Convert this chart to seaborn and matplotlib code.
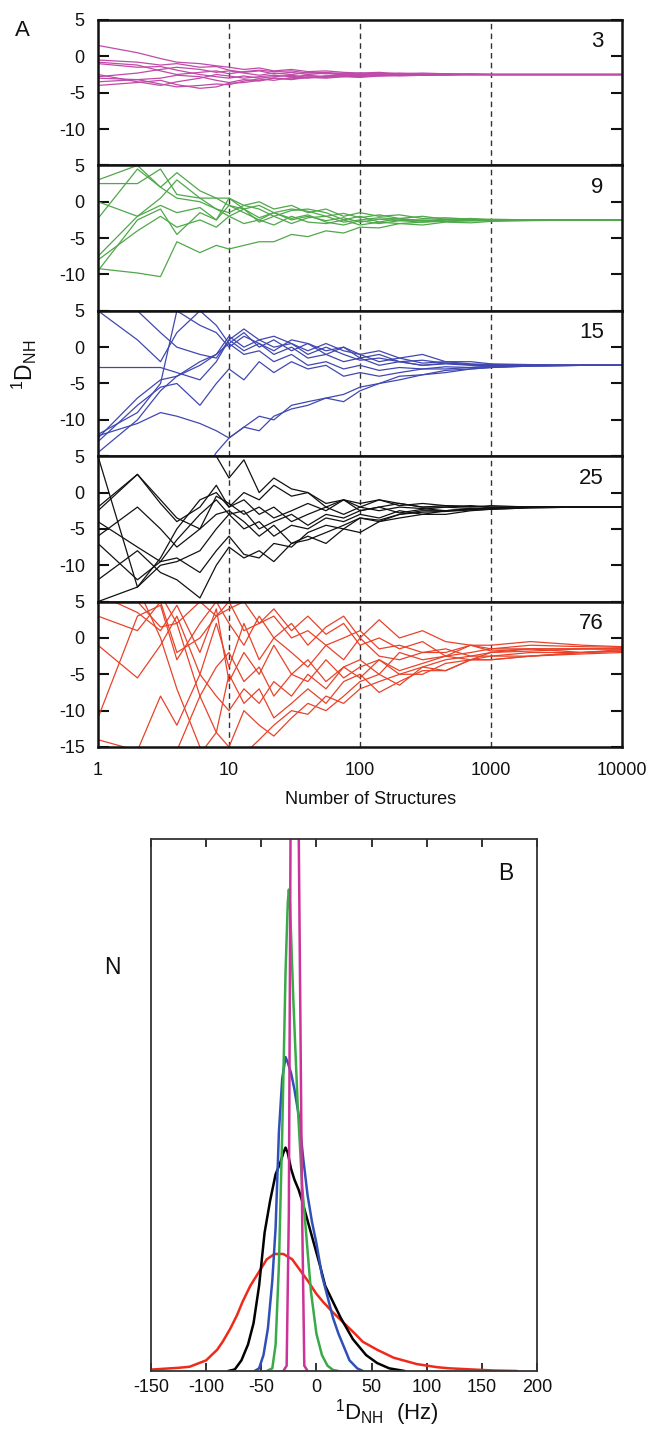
import numpy as np
import pandas as pd
import matplotlib
matplotlib.use("Agg")
import matplotlib.pyplot as plt
from matplotlib.ticker import NullLocator, FixedLocator, FixedFormatter
import seaborn as sns

sns.set_style("white")
plt.rcParams['font.family'] = ['Liberation Sans', 'DejaVu Sans']
plt.rcParams['mathtext.fontset'] = 'custom'
plt.rcParams['mathtext.rm'] = 'Liberation Sans'
plt.rcParams['mathtext.default'] = 'regular'
for k in ['text.color', 'axes.labelcolor', 'xtick.color', 'ytick.color']:
    plt.rcParams[k] = '#111111'

# ---------------- data: panel A (running averages vs number of structures)
N_GRID = [1, 2, 3, 4, 6, 8, 10, 13, 17, 22, 30, 40, 55, 75, 100, 140, 200, 300,
          450, 700, 1000, 2000, 5000, 10000]

RUNS_3 = [
    [1.5, 0.5, -0.3, -0.8, -1.0, -1.3, -1.5, -1.8, -1.6, -2.0, -1.8, -2.1, -2.0, -2.2, -2.3, -2.2, -2.4, -2.3, -2.4, -2.5, -2.5, -2.5, -2.5, -2.5],
    [-0.5, -0.8, -1.2, -1.0, -1.5, -1.4, -1.9, -2.2, -2.0, -2.4, -2.2, -2.5, -2.3, -2.6, -2.4, -2.5, -2.6, -2.5, -2.5, -2.5, -2.5, -2.5, -2.5, -2.5],
    [-1.0, -1.5, -1.4, -1.9, -2.5, -2.8, -3.0, -2.7, -3.0, -2.8, -2.6, -2.9, -2.7, -2.5, -2.7, -2.6, -2.5, -2.6, -2.5, -2.5, -2.5, -2.5, -2.5, -2.5],
    [-2.8, -2.3, -1.8, -1.5, -1.8, -2.2, -2.0, -2.3, -2.6, -2.3, -2.5, -2.2, -2.4, -2.3, -2.5, -2.4, -2.4, -2.5, -2.4, -2.5, -2.5, -2.5, -2.5, -2.5],
    [-3.0, -3.2, -3.0, -2.6, -2.8, -3.3, -3.6, -3.2, -3.4, -3.0, -3.1, -2.8, -2.9, -2.7, -2.8, -2.6, -2.7, -2.6, -2.5, -2.5, -2.5, -2.5, -2.5, -2.5],
    [-3.5, -3.2, -3.8, -4.2, -4.0, -3.8, -3.9, -3.4, -3.1, -3.3, -2.9, -3.0, -2.7, -2.8, -2.6, -2.7, -2.6, -2.5, -2.6, -2.5, -2.5, -2.5, -2.5, -2.5],
    [-4.0, -3.6, -3.3, -3.9, -4.4, -4.2, -3.7, -3.6, -3.3, -3.0, -3.2, -2.9, -3.0, -2.8, -2.9, -2.7, -2.6, -2.6, -2.5, -2.5, -2.5, -2.5, -2.5, -2.5],
    [-0.8, -1.2, -2.0, -2.5, -2.2, -2.0, -2.4, -2.1, -1.9, -2.1, -2.0, -2.3, -2.2, -2.4, -2.3, -2.4, -2.3, -2.4, -2.5, -2.4, -2.5, -2.5, -2.5, -2.5],
    [-2.5, -3.5, -4.0, -3.5, -3.0, -2.5, -2.7, -3.0, -2.8, -2.6, -2.8, -2.6, -2.8, -2.6, -2.7, -2.6, -2.5, -2.6, -2.5, -2.5, -2.5, -2.5, -2.5, -2.5],
]

RUNS_9 = [
    [3.0, 5.0, 2.0, 4.0, 1.5, 0.5, 0.5, -0.5, 0.0, -1.0, -0.5, -1.5, -1.0, -2.0, -1.5, -2.0, -1.8, -2.3, -2.2, -2.4, -2.4, -2.5, -2.5, -2.5],
    [2.5, 2.5, 4.5, 1.0, 0.5, 0.5, -0.5, -1.0, -0.5, -1.5, -1.0, -1.3, -2.0, -1.6, -2.2, -1.8, -2.3, -2.0, -2.4, -2.3, -2.5, -2.5, -2.5, -2.5],
    [-2.3, 4.5, 2.0, 0.5, 0.0, -1.0, -2.0, -1.0, -2.2, -1.5, -2.5, -2.0, -2.6, -2.2, -2.8, -2.4, -2.6, -2.5, -2.7, -2.6, -2.5, -2.5, -2.5, -2.5],
    [-7.5, -2.0, 0.5, 3.0, 0.5, -1.0, -1.5, -0.5, -1.0, -2.0, -1.2, -1.0, -1.5, -2.5, -2.0, -2.8, -2.3, -2.6, -2.4, -2.5, -2.5, -2.5, -2.5, -2.5],
    [-8.0, -4.0, -2.0, -3.5, -2.5, -3.5, -2.0, -3.0, -2.5, -3.2, -2.0, -2.8, -3.0, -2.5, -3.2, -2.8, -3.0, -2.8, -2.7, -2.6, -2.6, -2.5, -2.5, -2.5],
    [-9.5, -2.5, -1.0, -4.5, -1.5, -2.5, -0.5, -1.5, -2.5, -1.5, -2.3, -1.8, -2.8, -3.2, -2.6, -3.0, -2.6, -2.8, -2.5, -2.6, -2.6, -2.5, -2.5, -2.5],
    [-9.2, -9.8, -10.3, -5.5, -7.0, -6.0, -6.5, -6.0, -5.5, -5.5, -4.5, -4.8, -4.0, -4.3, -3.5, -3.6, -3.0, -3.2, -2.8, -2.9, -2.7, -2.6, -2.5, -2.5],
    [0.0, -2.0, -0.5, -1.5, -0.8, -2.5, 0.5, -1.0, -2.8, -2.0, -3.0, -2.2, -2.0, -2.8, -2.5, -2.2, -2.4, -2.6, -2.5, -2.4, -2.5, -2.5, -2.5, -2.5],
]

RUNS_15 = [
    [5.0, 1.0, -2.0, 2.0, 5.0, 3.0, 0.5, 2.0, 0.0, 1.0, -0.5, 0.5, -0.5, 0.0, -1.0, -0.5, -1.5, -1.0, -2.0, -2.0, -2.3, -2.4, -2.5, -2.5],
    [-2.8, -2.8, -2.8, -3.5, -4.5, -2.0, 1.0, -0.5, 0.5, -1.0, 0.0, -1.5, -1.0, -2.0, -1.5, -2.5, -2.0, -2.5, -2.3, -2.5, -2.6, -2.5, -2.5, -2.5],
    [-12.0, -9.0, -5.0, 5.0, 3.0, 2.0, 0.0, 1.5, 0.5, -0.5, 1.0, 0.5, -1.0, 0.0, -1.5, -1.0, -2.0, -1.8, -2.2, -2.4, -2.4, -2.5, -2.5, -2.5],
    [-12.5, -7.0, -4.5, -4.0, -2.5, -1.0, 0.5, -1.0, -0.5, -2.0, -1.0, -2.5, -2.0, -3.0, -2.5, -3.2, -2.8, -3.0, -2.7, -2.8, -2.6, -2.5, -2.5, -2.5],
    [-13.0, -8.0, -5.5, -5.0, -8.0, -5.0, -3.0, -4.5, -2.0, -3.5, -2.0, -3.0, -2.5, -4.0, -3.5, -4.0, -3.5, -3.0, -3.0, -2.8, -2.7, -2.6, -2.5, -2.5],
    [-12.2, -10.5, -9.0, -9.5, -10.5, -11.5, -12.5, -11.0, -11.5, -9.5, -8.5, -8.0, -7.0, -6.5, -5.5, -5.0, -4.5, -3.8, -3.5, -3.0, -2.8, -2.6, -2.5, -2.5],
    [-14.5, -10.0, -6.0, -4.0, -2.0, -1.0, 1.5, 0.0, 1.0, 0.0, 0.5, -1.0, 0.0, -1.0, -1.8, -1.5, -2.0, -2.5, -2.2, -2.4, -2.5, -2.5, -2.5, -2.5],
    [-30.0, -26.0, -23.0, -21.0, -18.0, -14.5, -12.5, -11.0, -9.5, -10.0, -8.0, -7.5, -7.0, -7.5, -6.0, -5.0, -4.0, -3.8, -3.2, -3.0, -2.8, -2.6, -2.5, -2.5],
    [5.0, 5.0, 2.0, 0.0, -1.0, -1.5, 1.0, 2.5, 1.0, 1.5, 0.5, -0.5, 0.5, -0.5, -1.0, -2.0, -1.5, -2.2, -2.0, -2.3, -2.4, -2.5, -2.5, -2.5],
]

RUNS_25 = [
    [5.0, -13.0, -10.0, -9.5, -8.0, -5.0, -3.0, -5.0, -4.0, -6.0, -4.5, -5.0, -3.5, -4.0, -3.0, -3.5, -2.5, -3.0, -2.5, -2.2, -2.2, -2.0, -2.0, -2.0],
    [-2.0, 2.5, -1.0, -3.5, -5.0, -0.5, -1.5, -3.0, -2.0, -3.5, -2.5, -1.5, -2.5, -1.0, -2.0, -1.0, -1.5, -2.0, -1.8, -2.0, -1.8, -2.0, -2.0, -2.0],
    [-2.5, 2.5, -1.5, -4.0, -2.0, 1.0, -2.0, -1.0, -3.0, -2.0, -4.0, -3.0, -2.0, -3.0, -2.0, -2.5, -2.0, -2.2, -2.5, -2.3, -2.1, -2.0, -2.0, -2.0],
    [-6.0, -2.0, -5.0, -7.5, -5.0, -3.0, -2.5, -4.0, -6.0, -4.5, -7.0, -6.0, -7.0, -5.0, -5.5, -4.0, -3.5, -3.0, -3.0, -2.5, -2.3, -2.1, -2.0, -2.0],
    [-7.0, -12.0, -9.5, -9.0, -11.0, -8.0, -6.0, -8.5, -9.0, -7.0, -7.5, -5.5, -4.5, -5.0, -3.5, -4.0, -3.0, -2.7, -2.6, -2.4, -2.3, -2.1, -2.0, -2.0],
    [-15.0, -13.0, -9.0, -5.0, -1.0, 0.0, -2.0, 0.0, -1.0, 1.0, -0.5, 0.0, -1.5, -1.0, -1.5, -1.0, -1.8, -1.5, -1.8, -1.9, -2.0, -2.0, -2.0, -2.0],
    [10.0, 8.0, 7.0, 6.5, 6.0, 5.0, 2.0, 4.5, 0.0, 2.0, 0.5, 0.0, -2.0, -1.0, -2.5, -2.0, -1.5, -2.0, -2.0, -1.8, -2.0, -2.0, -2.0, -2.0],
    [-12.0, -8.0, -11.0, -12.0, -14.5, -10.0, -7.5, -9.0, -8.0, -9.5, -7.0, -6.5, -5.5, -4.5, -3.5, -3.8, -3.0, -2.5, -2.5, -2.3, -2.2, -2.0, -2.0, -2.0],
    [-4.0, -7.5, -9.5, -6.5, -3.0, -1.0, -3.0, -2.5, -5.0, -4.0, -3.0, -4.5, -3.0, -3.5, -2.5, -2.0, -2.8, -2.3, -2.0, -2.2, -2.1, -2.0, -2.0, -2.0],
]

RUNS_76 = [
    [-1.0, -5.5, -1.0, 3.0, -5.0, 2.0, -4.0, 2.0, -3.0, 0.0, -2.0, -4.0, -1.0, -3.0, 0.0, -2.5, -3.0, -2.0, -1.5, -2.5, -2.0, -1.5, -1.5, -1.5],
    [-11.0, 3.0, 4.5, -3.0, 2.0, 5.0, 2.0, -1.0, 3.0, 0.0, 2.0, -1.0, 1.5, 3.0, 0.0, 2.5, 0.0, 1.0, -0.5, -1.0, -1.0, -0.5, -1.0, -1.2],
    [-14.0, -15.5, -8.0, -12.0, -5.0, -8.0, -10.0, -7.0, -9.0, -6.0, -8.0, -5.0, -7.0, -4.0, -5.5, -3.0, -5.0, -4.0, -3.0, -2.5, -2.5, -2.0, -2.0, -1.8],
    [8.0, 5.0, 1.5, 2.0, -8.0, -13.0, -15.0, -10.0, -12.0, -13.5, -11.0, -9.0, -10.0, -8.0, -6.0, -5.0, -6.5, -4.0, -4.5, -3.0, -3.0, -2.5, -2.0, -1.8],
    [6.0, 3.5, 1.0, 4.5, -2.0, 4.0, -6.0, -2.0, -5.0, -1.0, -5.0, -3.0, -6.0, -4.0, -3.0, -5.0, -2.0, -3.0, -2.5, -2.0, -1.5, -1.5, -2.0, -1.6],
    [10.0, 7.0, 0.0, -7.0, -15.0, -18.0, -17.0, -16.0, -14.0, -12.0, -10.0, -10.5, -8.0, -9.0, -7.0, -6.0, -5.0, -5.0, -3.5, -3.0, -2.5, -2.5, -2.0, -1.8],
    [-20.0, -18.0, -16.5, -15.5, -8.0, -4.0, -2.0, -6.0, -4.0, -8.0, -5.0, -6.0, -3.0, -5.5, -4.0, -3.0, -4.5, -3.5, -2.5, -3.0, -2.0, -1.8, -1.5, -1.5],
    [6.0, 9.0, 6.0, 2.0, 5.0, 3.0, 5.0, 1.0, 2.0, 4.0, 1.0, 3.0, 0.5, 2.0, -1.0, 0.0, -1.5, -0.5, -2.5, -1.0, -1.5, -1.0, -1.2, -1.3],
    [-30.0, -25.0, -20.0, -18.0, -16.0, -13.0, -5.0, -9.0, -7.0, -11.0, -9.0, -7.0, -9.0, -6.0, -5.0, -7.5, -6.0, -4.5, -4.5, -3.0, -3.0, -2.5, -2.2, -2.0],
    [3.0, 1.0, 5.0, -2.0, 0.0, 3.0, 4.0, 5.0, 2.0, 3.0, 0.0, 1.0, -1.0, 0.0, 1.0, -1.5, -1.0, -2.0, -2.0, -1.0, -1.8, -1.5, -1.5, -1.5],
]

PANEL_LABELS = ["3", "9", "15", "25", "76"]
PANEL_RUNS = [RUNS_3, RUNS_9, RUNS_15, RUNS_25, RUNS_76]
COLORS_A = ["#c04aa8", "#4fa84a", "#4048b0", "#111111", "#e8432a"]
X_TICKS = [1, 10, 100, 1000, 10000]
X_TICK_LABELS = ["1", "10", "100", "1000", "10000"]
Y_TICKS = [-15, -10, -5, 0, 5]

# ---------------- data: panel B (distributions of 1D_NH)
MAG_X = [-30, -27, -25, -23.5, -20, -16, -13, -11, -8]
MAG_Y = [0.0, 0.01, 0.3, 1.0, 3.0, 1.0, 0.3, 0.01, 0.0]
GRN_X = [-45, -40, -37, -34, -31, -28, -26, -25, -24, -21, -17, -13, -9, -5, 0, 5, 10, 15, 20]
GRN_Y = [0.0, 0.005, 0.05, 0.2, 0.45, 0.75, 0.88, 0.905, 0.88, 0.7, 0.5, 0.35, 0.25, 0.15, 0.07, 0.03, 0.01, 0.002, 0.0]
BLU_X = [-56, -52, -48, -44, -40, -37, -34, -31, -28, -26, -23, -20, -16, -12, -8, -4, 0, 5, 10, 15, 20, 25, 30, 37, 42]
BLU_Y = [0.0, 0.005, 0.03, 0.08, 0.17, 0.27, 0.45, 0.55, 0.59, 0.58, 0.56, 0.53, 0.48, 0.40, 0.33, 0.28, 0.24, 0.18, 0.14, 0.10, 0.07, 0.045, 0.02, 0.005, 0.0]
BLK_X = [-80, -74, -68, -62, -57, -52, -47, -42, -37, -33, -30, -28, -26, -23, -20, -16, -13, -9, -5, -1, 3, 8, 15, 22, 33, 45, 55, 66, 80]
BLK_Y = [0.0, 0.003, 0.02, 0.05, 0.09, 0.16, 0.26, 0.32, 0.37, 0.39, 0.41, 0.42, 0.41, 0.38, 0.36, 0.34, 0.32, 0.29, 0.26, 0.23, 0.2, 0.16, 0.13, 0.1, 0.06, 0.03, 0.015, 0.005, 0.0]
RED_X = [-155, -140, -125, -115, -100, -90, -85, -78, -72, -67, -60, -51, -45, -38, -30, -22, -15, -8, 0, 6, 15, 25, 35, 42, 55, 70, 91, 110, 121, 140, 160, 182]
RED_Y = [0.002, 0.004, 0.006, 0.008, 0.02, 0.04, 0.055, 0.08, 0.105, 0.13, 0.16, 0.19, 0.21, 0.22, 0.22, 0.21, 0.19, 0.17, 0.145, 0.13, 0.11, 0.09, 0.07, 0.055, 0.04, 0.025, 0.013, 0.007, 0.005, 0.003, 0.001, 0.0]
B_TICKS = [-150, -100, -50, 0, 50, 100, 150, 200]
COLORS_B = ["#ee2a1a", "#000000", "#3050b8", "#3aaa48", "#cc3399"]

# ---------------- figure
W, H = 651, 1429
fig = plt.figure(figsize=(W / 100, H / 100), dpi=100)

def fx(px):
    return px / W

def fy(py):
    return 1 - py / H

a_left, a_right = 98, 622
a_top, a_bot = 20, 747
ph = (a_bot - a_top) / 5.0

for i, (runs, lab, col) in enumerate(zip(PANEL_RUNS, PANEL_LABELS, COLORS_A)):
    top = a_top + i * ph
    ax = fig.add_axes([fx(a_left), fy(top + ph), fx(a_right - a_left), ph / H])
    rows = []
    for r, vals in enumerate(runs):
        for n, v in zip(N_GRID, vals):
            rows.append((n, v, r))
    df = pd.DataFrame(rows, columns=["n", "v", "run"])
    sns.lineplot(data=df, x="n", y="v", units="run", estimator=None,
                 color=col, lw=0.9, ax=ax, legend=False)
    ax.set_xscale("log")
    ax.set_xlim(1, 10000)
    ax.set_ylim(-15, 5)
    for xv in [10, 100, 1000]:
        ax.axvline(xv, color="#333333", lw=1.0, ls=(0, (4, 3)), zorder=1)
    ax.set_yticks(Y_TICKS)
    if i < 4:
        ax.set_yticklabels(["", "-10", "-5", "0", "5"])
    else:
        ax.set_yticklabels(["-15", "-10", "-5", "0", "5"])
    ax.xaxis.set_minor_locator(NullLocator())
    ax.xaxis.set_major_locator(FixedLocator(X_TICKS))
    if i == 4:
        ax.xaxis.set_major_formatter(FixedFormatter(X_TICK_LABELS))
    else:
        ax.xaxis.set_major_formatter(FixedFormatter([""] * 5))
    ax.tick_params(axis="y", direction="in", length=8, width=1.5,
                   left=True, right=True, labelsize=13, pad=9.5)
    ax.tick_params(axis="x", length=0, labelsize=13, pad=11)
    ax.set_xlabel("")
    ax.set_ylabel("")
    for s in ax.spines.values():
        s.set_linewidth(1.8)
        s.set_color("#111111")
    ax.text(0.965, 0.85, lab, transform=ax.transAxes, ha="right", va="center",
            fontsize=16)

fig.text(fx(22), fy(30), "A", fontsize=16, ha="center", va="center")
fig.text(fx(24), fy(365), r"$^{1}$D$_{NH}$", fontsize=16.5, rotation=90,
         ha="center", va="center")
fig.text(fx(371), fy(799), "Number of Structures", fontsize=13,
         ha="center", va="center")

# ---------------- panel B
b_left, b_right, b_top, b_bot = 151, 537, 839, 1371
axb = fig.add_axes([fx(b_left), fy(b_bot), fx(b_right - b_left), (b_bot - b_top) / H])
curves = [("76", RED_X, RED_Y), ("25", BLK_X, BLK_Y), ("15", BLU_X, BLU_Y),
          ("9", GRN_X, GRN_Y), ("3", MAG_X, MAG_Y)]
rows = []
for name, xs, ys in curves:
    for xv, yv in zip(xs, ys):
        rows.append((xv, yv, name))
dfb = pd.DataFrame(rows, columns=["x", "y", "set"])
sns.lineplot(data=dfb, x="x", y="y", hue="set", hue_order=[c[0] for c in curves],
             palette=COLORS_B, estimator=None, lw=1.8, ax=axb, legend=False, sort=False)
axb.set_xlim(-150, 200)
axb.set_ylim(0, 1.0)
axb.set_xticks(B_TICKS)
axb.set_xticklabels([str(t) for t in B_TICKS])
axb.set_yticks([])
axb.tick_params(axis="x", direction="in", length=6, width=1.2, top=True,
                bottom=True, labelsize=13, pad=6)
axb.set_xlabel("")
axb.set_ylabel("")
for s in axb.spines.values():
    s.set_linewidth(1.3)
    s.set_color("#333333")
fig.text(fx(112), fy(968), "N", fontsize=16.5, ha="center", va="center")
axb.text((506 - b_left) / (b_right - b_left), 1 - (873 - b_top) / (b_bot - b_top),
         "B", transform=axb.transAxes, fontsize=16.5, ha="center", va="center")
fig.text(fx(387), fy(1420), r"$^{1}$D$_{NH}$  (Hz)", fontsize=16,
         ha="center", va="baseline")

fig.savefig("out.png", dpi=100)
